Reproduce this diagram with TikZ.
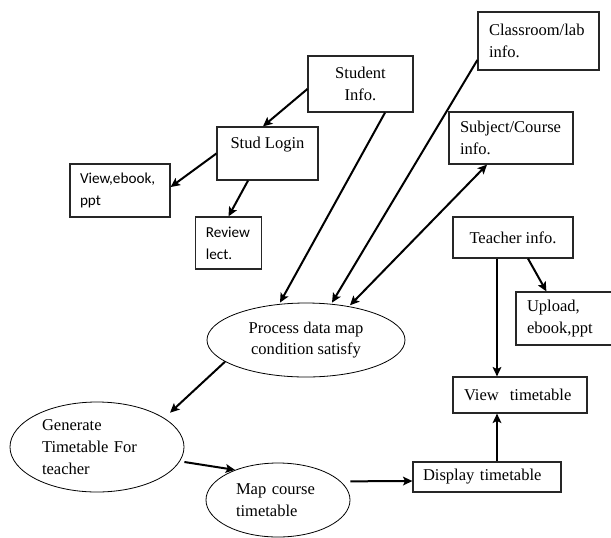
\documentclass[tikz,border=0pt]{standalone}
\usepackage{fontspec}
\setmainfont{Liberation Serif}
\newfontfamily\calfont{Carlito}
\usetikzlibrary{arrows.meta,shapes.geometric}

\begin{document}
\begin{tikzpicture}[
  x=0.75pt,y=-0.75pt,
  >={Stealth[length=7pt,width=6.5pt,inset=1.5pt]},
  b/.style={draw=black!85,line width=0.9pt,inner ysep=2pt,font=\fontsize{12.4pt}{16.2pt}\selectfont},
  bl/.style={b,align=left,inner xsep=8.25pt},
  bc/.style={b,align=center,inner xsep=4pt},
  sf/.style={font=\calfont\fontsize{11.4pt}{16.5pt}\selectfont},
  e/.style={ellipse,draw=black,line width=0.6pt,inner sep=0pt,font=\fontsize{12.4pt}{16.2pt}\selectfont},
  a/.style={->,line width=1.5pt}
]
\useasboundingbox (0,0) rectangle (611,537);
\clip (0,0) rectangle (611,537);

% student side
\node[bc,minimum width=78.75pt,minimum height=42pt] (si) at (360.5,84) {Student\\Info.};
\node[bc,minimum width=75.75pt,minimum height=39.75pt] (sl) at (267.5,153.5) {Stud Login\\ \mbox{}};
\node[bl,sf,text width=60pt,inner xsep=7.5pt,minimum height=39.75pt] (vb) at (120,190.5) {View,ebook,\\ppt};
\node[bl,sf,text width=34pt,inner xsep=8pt,minimum height=39pt] (rl) at (228.5,243) {Review\\lect.};

% data inputs
\node[bl,text width=74.25pt,minimum height=43.5pt] (cl) at (538.5,41) {Classroom/lab\\info.};
\node[bl,text width=76.5pt,minimum height=39pt] (sc) at (511,138) {Subject/Course\\info.};
\node[bc,minimum width=90pt,minimum height=30.75pt] (ti) at (513,237.5) {Teacher info.};
\node[bl,text width=76.5pt,minimum height=39.75pt] (up) at (578,318.5) {Upload,\\ebook,ppt};
\node[bl,text width=84pt,minimum height=27pt] (vt) at (520,395) {View~ timetable};
\node[bl,text width=96pt,inner xsep=7.5pt,minimum height=22.5pt] (dt) at (487,477) {Display timetable};

% processes
\node[e,minimum width=148.5pt,minimum height=55.5pt,align=center] (pd) at (306,340) {Process data map\\condition satisfy};
\node[e,minimum width=130.5pt,minimum height=67.5pt,text width=82.5pt,align=left] (gt) at (97,447) {Generate\\Timetable For\\teacher};
\node[e,minimum width=108pt,minimum height=55.5pt,text width=63pt,align=left] (mc) at (278,500) {Map course\\timetable};

\draw[a] ([yshift=-3.75pt]si.west) -- ([xshift=-3.4pt]sl.north);
\draw[a] (sl.west) -- ([yshift=2.6pt]vb.east);
\draw[a] ([xshift=-14.6pt]sl.south) -- (rl.north);
\draw[a] ([xshift=18.4pt]si.south) -- ([xshift=-19.5pt]pd.north);
\draw[a] ([yshift=-14.25pt]cl.west) -- ([xshift=19.5pt]pd.north);
\draw[a,<->] ([xshift=-18pt]sc.south) -- ([xshift=33pt,yshift=-2pt]pd.north);
\draw[a] ([xshift=-12pt]ti.south) -- ([xshift=-17.25pt]vt.north);
\draw[a] ([xshift=11.25pt]ti.south) -- ([xshift=23.25pt]up.north west);
\draw[a] ([xshift=7.5pt]dt.north) -- ([xshift=-17.25pt]vt.south);
\draw[a] ([yshift=14pt]mc.east) -- ([yshift=-3pt]dt.west);
\draw[a] ([yshift=-11.25pt]gt.east) -- (mc.145);
\draw[a] (pd.195) -- ([shift={(6pt,3pt)}]gt.25);
\end{tikzpicture}
\end{document}
